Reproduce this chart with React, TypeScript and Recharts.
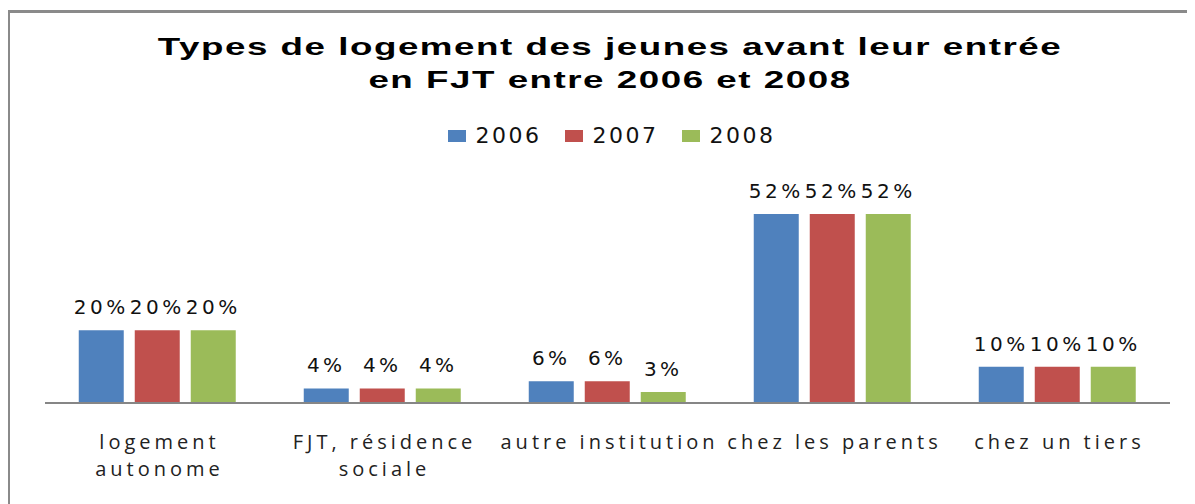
import React from "react";
import { BarChart, Bar, XAxis, YAxis, LabelList, Legend } from "recharts";

const categories = [
  "logement\nautonome",
  "FJT, résidence\nsociale",
  "autre institution",
  "chez les parents",
  "chez un tiers",
];
const values2006 = [20, 4, 6, 52, 10];
const values2007 = [20, 4, 6, 52, 10];
const values2008 = [20, 4, 3, 52, 10];
const seriesNames = ["2006", "2007", "2008"];
const seriesColors = ["#4f81bd", "#c0504d", "#9bbb59"];
const titleLines = [
  "Types de logement des jeunes avant leur entrée",
  "en FJT entre 2006 et 2008",
];

const data = categories.map((c, i) => ({
  name: c,
  s2006: values2006[i],
  s2007: values2007[i],
  s2008: values2008[i],
}));
const keys = ["s2006", "s2007", "s2008"];

const CategoryTick = (props: any) => {
  const { x, y, payload } = props;
  const lines = String(payload.value).split("\n");
  return (
    <g>
      {lines.map((l: string, i: number) => (
        <text
          key={i}
          x={x + 2}
          y={y + 38 + i * 27}
          textAnchor="middle"
          fontFamily="'Open Sans', sans-serif"
          fontSize={20}
          letterSpacing={4}
          fill="#222"
        >
          {l}
        </text>
      ))}
    </g>
  );
};

const LegendContent = () => (
  <div style={{ display: "flex", justifyContent: "center" }}>
    {seriesNames.map((n, i) => (
      <div key={n} style={{ display: "flex", alignItems: "center", marginRight: i < 2 ? 23 : 0 }}>
        <div style={{ width: 18, height: 12, background: seriesColors[i], marginRight: 10 }} />
        <span
          style={{
            fontFamily: "'DejaVu Sans', sans-serif",
            fontSize: 22,
            letterSpacing: 2.5,
            color: "#111",
            lineHeight: "26px",
          }}
        >
          {n}
        </span>
      </div>
    ))}
  </div>
);

export default function App() {
  return (
    <div style={{ position: "relative", width: 1187, height: 496, overflow: "hidden", background: "#fff" }}>
      <div
        style={{
          position: "absolute",
          left: 0,
          top: 2,
          width: 2000,
          height: 1000,
          borderLeft: "2px solid #8a8a8a",
          borderTop: "3px solid #8a8a8a",
        }}
      />
      <div
        style={{
          position: "absolute",
          left: 0,
          width: 1204,
          top: 22,
          textAlign: "center",
          fontFamily: "'Liberation Sans', Arial, sans-serif",
          fontWeight: "bold",
          fontSize: 24,
          letterSpacing: 1,
          lineHeight: "33px",
          color: "#000",
          transform: "scaleX(1.53)",
          transformOrigin: "602px 0",
        }}
      >
        {titleLines.map((t) => (
          <div key={t}>{t}</div>
        ))}
      </div>
      <div style={{ position: "absolute", top: 0, left: 0 }}>
        <BarChart
          width={1187}
          height={496}
          data={data}
          margin={{ top: 177, right: 25, bottom: 41, left: 37 }}
          barCategoryGap="15%"
          barGap={11}
        >
          <XAxis
            dataKey="name"
            axisLine={{ stroke: "#868686", strokeWidth: 2 }}
            tickLine={false}
            tick={<CategoryTick />}
            interval={0}
            height={60}
          />
          <YAxis hide domain={[0, 60]} />
          <Legend
            layout="horizontal"
            verticalAlign="middle"
            align="center"
            wrapperStyle={{ top: 115, left: 10, width: 1187 }}
            content={<LegendContent />}
          />
          {keys.map((k, i) => (
            <Bar key={k} dataKey={k} name={seriesNames[i]} fill={seriesColors[i]} isAnimationActive={false}>
              <LabelList
                dataKey={k}
                position="top"
                offset={16}
                formatter={(v: any) => `${v}%`}
                style={{ fontFamily: "'DejaVu Sans', sans-serif", fontSize: 20, letterSpacing: 3.5, fill: "#111" }}
              />
            </Bar>
          ))}
        </BarChart>
      </div>
    </div>
  );
}
